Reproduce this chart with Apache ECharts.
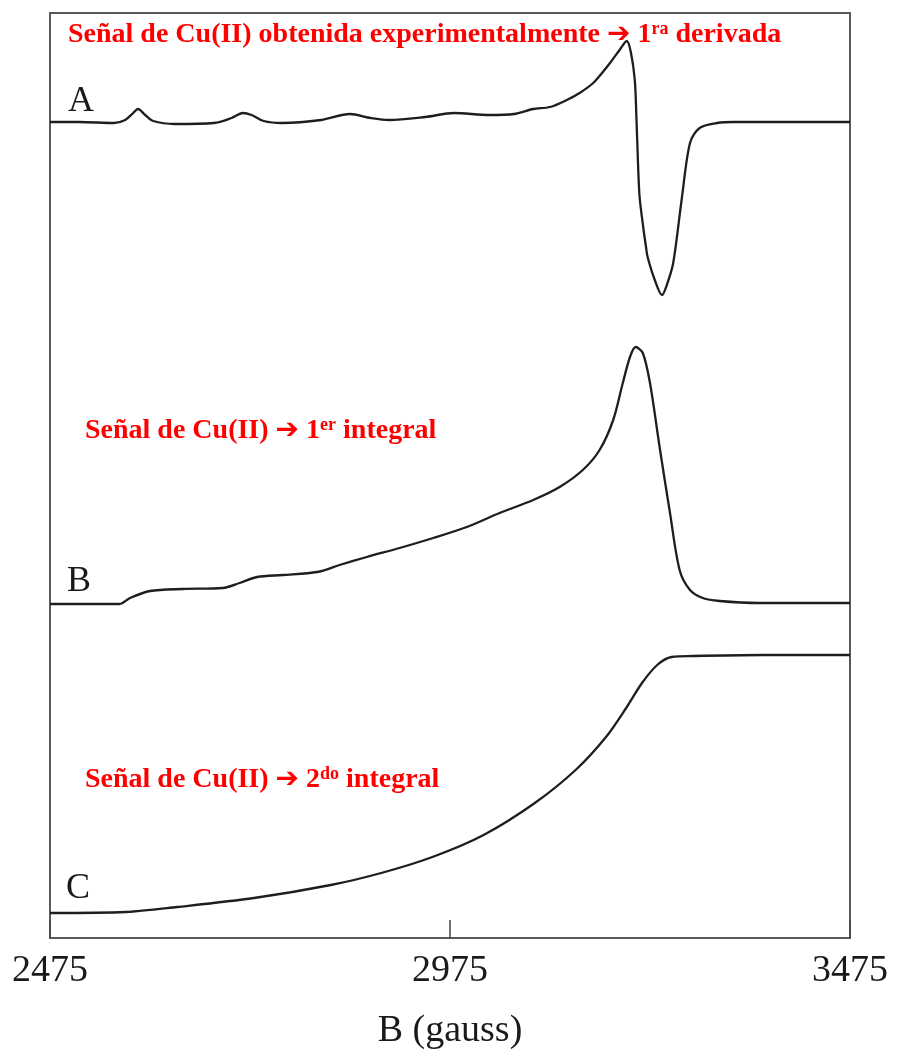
<!DOCTYPE html>
<html>
<head>
<meta charset="utf-8">
<script src="https://cdn.jsdelivr.net/npm/echarts@6/dist/echarts.min.js"></script>
<style>
  html, body { margin: 0; padding: 0; background: #fff; }
  #chart { width: 899px; height: 1060px; }
</style>
</head>
<body>
<div id="chart"></div>
<script>
// Magnetic field (gauss) and signal intensity for each trace
const fieldA = [2475, 2512, 2555, 2569, 2579, 2585, 2594, 2604, 2631, 2680, 2702, 2716, 2727, 2742, 2765, 2814, 2850, 2876, 2899, 2944, 2980, 3024, 3055, 3079, 3100, 3121, 3137, 3154, 3165, 3175, 3187, 3196, 3201, 3206, 3208, 3210, 3212, 3217, 3220, 3222, 3231, 3240, 3246, 3254, 3265, 3275, 3287, 3309, 3329, 3412, 3475];
const derivA = [0, 0, -1, 2, 9, 13, 7, 1, -2, -1, 4, 9, 7, 1, -1, 2, 8, 4, 2, 5, 9, 7, 8, 13, 15, 22, 29, 39, 49, 59, 72, 81, 70, 42, 5, -41, -75, -108, -125, -135, -158, -173, -163, -141, -75, -21, -6, -1, 0, 0, 0];

const fieldB = [2475, 2562, 2575, 2600, 2641, 2691, 2712, 2734, 2766, 2809, 2837, 2871, 2912, 2954, 2996, 3037, 3079, 3112, 3141, 3162, 3179, 3191, 3200, 3207, 3216, 3225, 3237, 3250, 3262, 3275, 3291, 3312, 3362, 3475];
const integB = [0, 0, 6, 13, 15, 16, 21, 27, 29, 32, 39, 47, 56, 66, 77, 91, 104, 117, 134, 154, 184, 221, 247, 257, 251, 221, 157, 91, 34, 14, 6, 3, 1, 1];

const fieldC = [2475, 2570, 2634, 2730, 2826, 2889, 2953, 3017, 3081, 3132, 3170, 3196, 3215, 3234, 3252, 3279, 3367, 3475];
const integC = [0, 1, 6, 15, 28, 40, 56, 78, 110, 143, 176, 206, 230, 248, 256, 257, 258, 258];

const xTicks = [2475, 2975, 3475];
const traceNames = ['A', 'B', 'C'];

// vertical stacking of the three traces (arbitrary units)
const BASE_A = 816, BASE_B = 334, BASE_C = 25;

function stack(xs, ys, base) {
  return xs.map((x, i) => [x, ys[i] + base]);
}

const serif = "'Liberation Serif', 'DejaVu Serif', serif";
const red = '#ff0000';
const redRich = {
  t:   { fontFamily: serif, fontWeight: 'bold', fontSize: 28, fill: red, color: red },
  arr: { fontFamily: "'DejaVu Sans', sans-serif", fontWeight: 'bold', fontSize: 28, fill: red, color: red },
  sup: { fontFamily: serif, fontWeight: 'bold', fontSize: 18, fill: red, color: red, verticalAlign: 'top', padding: [0, 0, 11, 0] }
};

const chart = echarts.init(document.getElementById('chart'), null, { renderer: 'canvas' });

const lineStyle = { color: '#1e1e1e', width: 2.3 };

chart.setOption({
  animation: false,
  backgroundColor: '#ffffff',
  grid: {
    left: 50, right: 49, top: 13, bottom: 122,
    show: true, borderColor: '#5a5a5a', borderWidth: 2, backgroundColor: 'transparent'
  },
  xAxis: {
    type: 'value',
    min: 2475, max: 3475, interval: 500,
    name: 'B (gauss)',
    nameLocation: 'middle',
    nameGap: 74,
    nameTextStyle: { fontFamily: serif, fontSize: 38, color: '#1a1a1a' },
    axisLine: { show: true, lineStyle: { color: '#5a5a5a', width: 2 } },
    axisTick: { show: true, inside: true, length: 18, lineStyle: { color: '#444', width: 1.5 } },
    axisLabel: {
      fontFamily: serif, fontSize: 38, color: '#1a1a1a', margin: 14,
      formatter: v => xTicks.includes(v) ? String(v) : ''
    },
    splitLine: { show: false }
  },
  yAxis: {
    type: 'value', min: 0, max: 925, show: false
  },
  series: [
    { type: 'line', data: stack(fieldA, derivA, BASE_A), showSymbol: false, smooth: 0.3, lineStyle },
    { type: 'line', data: stack(fieldB, integB, BASE_B), showSymbol: false, smooth: 0.3, lineStyle },
    { type: 'line', data: stack(fieldC, integC, BASE_C), showSymbol: false, smooth: 0.3, lineStyle }
  ],
  graphic: [
    { type: 'text', left: 68, top: 84, style: { text: traceNames[0], font: '36px ' + serif, fill: '#1a1a1a' } },
    { type: 'text', left: 67, top: 564, style: { text: traceNames[1], font: '36px ' + serif, fill: '#1a1a1a' } },
    { type: 'text', left: 66, top: 871, style: { text: traceNames[2], font: '36px ' + serif, fill: '#1a1a1a' } },
    { type: 'text', left: 68, top: 20, style: {
        text: '{t|Señal de Cu(II) obtenida experimentalmente }{arr|➔}{t| 1}{sup|ra}{t| derivada}',
        rich: redRich, fill: red } },
    { type: 'text', left: 85, top: 416, style: {
        text: '{t|Señal de Cu(II) }{arr|➔}{t| 1}{sup|er}{t| integral}',
        rich: redRich, fill: red } },
    { type: 'text', left: 85, top: 765, style: {
        text: '{t|Señal de Cu(II) }{arr|➔}{t| 2}{sup|do}{t| integral}',
        rich: redRich, fill: red } }
  ]
});
</script>
</body>
</html>
